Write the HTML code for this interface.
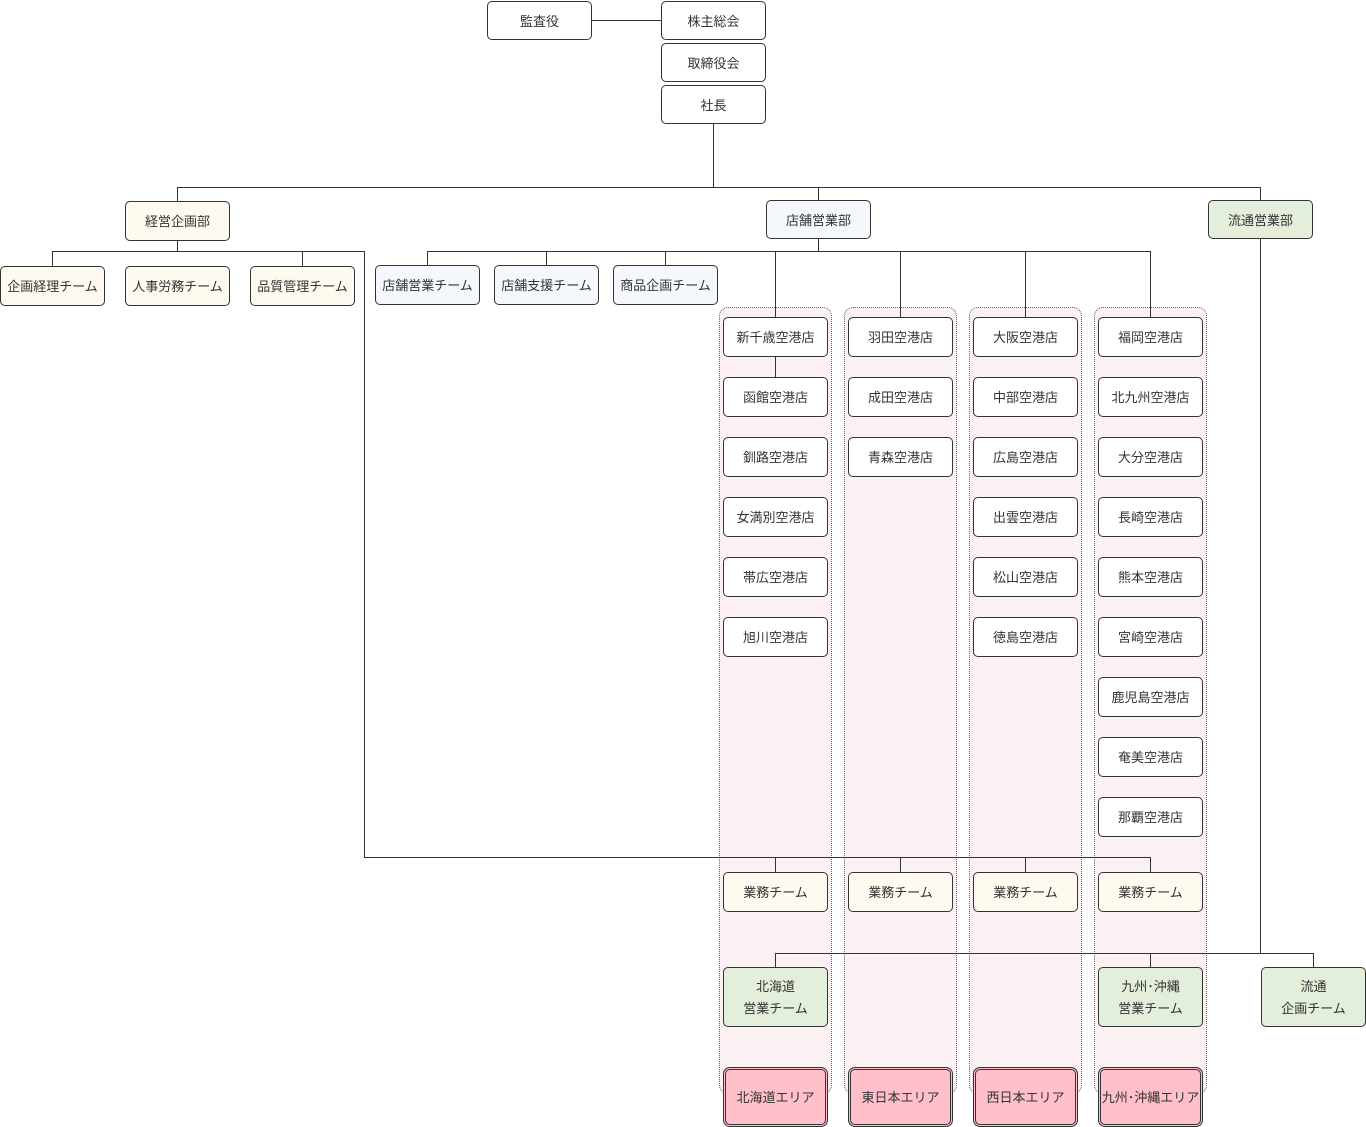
<!DOCTYPE html>
<html><head><meta charset="utf-8"><style>
body{margin:0;width:1366px;height:1127px;background:#fff;position:relative;overflow:hidden;font-family:"Liberation Sans","Noto Sans CJK JP",sans-serif;}
.b{position:absolute;box-sizing:border-box;border:1px solid #333;border-radius:5px;background:#fff;display:flex;align-items:center;justify-content:center;text-align:center;font-size:13px;color:#333;line-height:22px;padding-top:2px;}
.y{background:#fffaf0}.bl{background:#f4f7fb}.g{background:#e3eedb}
.p{background:#ffc0cb;border:3px double #333;border-radius:7px}
.grp{position:absolute;box-sizing:border-box;border:1px dotted #666;border-radius:9px;background:#fbf1f3;top:307px;height:787px;width:113px}
svg{position:absolute;left:0;top:0}
</style></head><body>
<div class="grp" style="left:719px"></div>
<div class="grp" style="left:844px"></div>
<div class="grp" style="left:969px"></div>
<div class="grp" style="left:1094px"></div>
<svg width="1366" height="1127"><g stroke="#333" stroke-width="1" fill="none">
<path d="M591 20.5H661"/>
<path d="M713.5 123V187.5M177.5 187.5H1260.5M177.5 187V201M818.5 187V200M1260.5 187V200"/>
<path d="M177.5 240V251.5M52.5 251.5H364.5V857.5H1150.5M52.5 251V266M302.5 251V266"/>
<path d="M775.5 857V873M900.5 857V873M1025.5 857V873M1150.5 857V873"/>
<path d="M818.5 238V251.5M427.5 251.5H1150.5M427.5 251V265M546.5 251V265M665.5 251V265"/>
<path d="M775.5 251V318M900.5 251V318M1025.5 251V318M1150.5 251V318M775.5 356V377"/>
<path d="M1260.5 238V953.5M775.5 953.5H1313.5M775.5 953V967M1150.5 953V967M1313.5 953V967"/>
</g></svg>
<div class="b" style="left:487px;top:1px;width:105px;height:39px">監査役</div>
<div class="b" style="left:661px;top:1px;width:105px;height:39px">株主総会</div>
<div class="b" style="left:661px;top:43px;width:105px;height:39px">取締役会</div>
<div class="b" style="left:661px;top:85px;width:105px;height:39px">社長</div>
<div class="b y" style="left:125px;top:201px;width:105px;height:40px">経営企画部</div>
<div class="b bl" style="left:766px;top:200px;width:105px;height:39px">店舗営業部</div>
<div class="b g" style="left:1208px;top:200px;width:105px;height:39px">流通営業部</div>
<div class="b y" style="left:0px;top:266px;width:105px;height:40px">企画経理チーム</div>
<div class="b y" style="left:125px;top:266px;width:105px;height:40px">人事労務チーム</div>
<div class="b y" style="left:250px;top:266px;width:105px;height:40px">品質管理チーム</div>
<div class="b bl" style="left:375px;top:265px;width:105px;height:40px">店舗営業チーム</div>
<div class="b bl" style="left:494px;top:265px;width:105px;height:40px">店舗支援チーム</div>
<div class="b bl" style="left:613px;top:265px;width:105px;height:40px">商品企画チーム</div>

<div class="b" style="left:723px;top:317px;width:105px;height:40px">新千歳空港店</div>
<div class="b" style="left:723px;top:377px;width:105px;height:40px">函館空港店</div>
<div class="b" style="left:723px;top:437px;width:105px;height:40px">釧路空港店</div>
<div class="b" style="left:723px;top:497px;width:105px;height:40px">女満別空港店</div>
<div class="b" style="left:723px;top:557px;width:105px;height:40px">帯広空港店</div>
<div class="b" style="left:723px;top:617px;width:105px;height:40px">旭川空港店</div>

<div class="b" style="left:848px;top:317px;width:105px;height:40px">羽田空港店</div>
<div class="b" style="left:848px;top:377px;width:105px;height:40px">成田空港店</div>
<div class="b" style="left:848px;top:437px;width:105px;height:40px">青森空港店</div>

<div class="b" style="left:973px;top:317px;width:105px;height:40px">大阪空港店</div>
<div class="b" style="left:973px;top:377px;width:105px;height:40px">中部空港店</div>
<div class="b" style="left:973px;top:437px;width:105px;height:40px">広島空港店</div>
<div class="b" style="left:973px;top:497px;width:105px;height:40px">出雲空港店</div>
<div class="b" style="left:973px;top:557px;width:105px;height:40px">松山空港店</div>
<div class="b" style="left:973px;top:617px;width:105px;height:40px">徳島空港店</div>

<div class="b" style="left:1098px;top:317px;width:105px;height:40px">福岡空港店</div>
<div class="b" style="left:1098px;top:377px;width:105px;height:40px">北九州空港店</div>
<div class="b" style="left:1098px;top:437px;width:105px;height:40px">大分空港店</div>
<div class="b" style="left:1098px;top:497px;width:105px;height:40px">長崎空港店</div>
<div class="b" style="left:1098px;top:557px;width:105px;height:40px">熊本空港店</div>
<div class="b" style="left:1098px;top:617px;width:105px;height:40px">宮崎空港店</div>
<div class="b" style="left:1098px;top:677px;width:105px;height:40px">鹿児島空港店</div>
<div class="b" style="left:1098px;top:737px;width:105px;height:40px">奄美空港店</div>
<div class="b" style="left:1098px;top:797px;width:105px;height:40px">那覇空港店</div>

<div class="b y" style="left:723px;top:872px;width:105px;height:40px">業務チーム</div>
<div class="b y" style="left:848px;top:872px;width:105px;height:40px">業務チーム</div>
<div class="b y" style="left:973px;top:872px;width:105px;height:40px">業務チーム</div>
<div class="b y" style="left:1098px;top:872px;width:105px;height:40px">業務チーム</div>

<div class="b g" style="left:723px;top:967px;width:105px;height:60px">北海道<br>営業チーム</div>
<div class="b g" style="left:1098px;top:967px;width:105px;height:60px">九州･沖縄<br>営業チーム</div>
<div class="b g" style="left:1261px;top:967px;width:105px;height:60px">流通<br>企画チーム</div>

<div class="b p" style="left:723px;top:1067px;width:105px;height:60px">北海道エリア</div>
<div class="b p" style="left:848px;top:1067px;width:105px;height:60px">東日本エリア</div>
<div class="b p" style="left:973px;top:1067px;width:105px;height:60px">西日本エリア</div>
<div class="b p" style="left:1098px;top:1067px;width:105px;height:60px">九州･沖縄エリア</div>
</body></html>
